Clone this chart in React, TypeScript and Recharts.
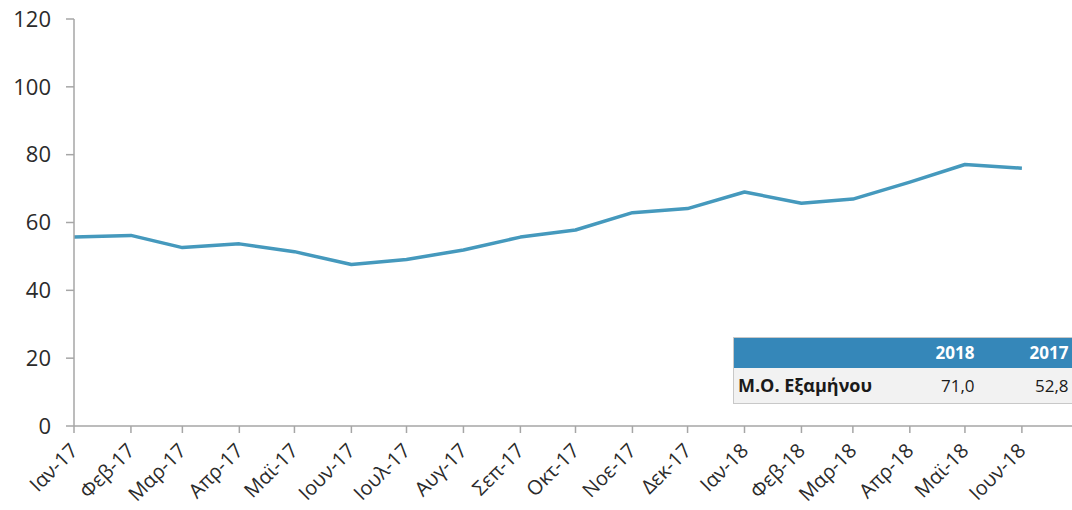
import React from 'react';
import { CartesianGrid, Line, LineChart, XAxis, YAxis } from 'recharts';

// monthly index values, Jan 2017 – Jun 2018
const months = [
    '2017-01-01', '2017-02-01', '2017-03-01', '2017-04-01', '2017-05-01', '2017-06-01',
    '2017-07-01', '2017-08-01', '2017-09-01', '2017-10-01', '2017-11-01', '2017-12-01',
    '2018-01-01', '2018-02-01', '2018-03-01', '2018-04-01', '2018-05-01', '2018-06-01',
];
const monthLabels = [
    'Ιαν-17', 'Φεβ-17', 'Μαρ-17', 'Απρ-17', 'Μαϊ-17', 'Ιουν-17',
    'Ιουλ-17', 'Αυγ-17', 'Σεπ-17', 'Οκτ-17', 'Νοε-17', 'Δεκ-17',
    'Ιαν-18', 'Φεβ-18', 'Μαρ-18', 'Απρ-18', 'Μαϊ-18', 'Ιουν-18',
];
const values = [
    55.7, 56.2, 52.6, 53.7, 51.4, 47.6,
    49.1, 51.9, 55.7, 57.8, 62.9, 64.1,
    69.0, 65.7, 66.9, 71.9, 77.1, 76.0,
];
const yTicks = [0, 20, 40, 60, 80, 100, 120];

// summary box (six-month average)
const tableYears = ['2018', '2017'];
const tableRowLabel = 'Μ.Ο. Εξαμήνου';
const tableValues = ['71,0', '52,8'];

const domainEnd = '2018-07-01';

const toTime = (s: string) => new Date(s + 'T00:00:00Z').getTime();
const data = months.map((m, i) => ({ t: toTime(m), value: values[i] }));
const xTicks = months.map(toTime);
const labelFor = (t: number) => monthLabels[xTicks.indexOf(t)] ?? '';

const FONT = '"Open Sans", sans-serif';
const AXIS = '#a6a6a6';
const TEXT = '#2b2b2b';

function MonthTick(props: any) {
    const { x, y, payload } = props;
    const ax = x + 5;
    const ay = y + 17;
    return (
        <text
            x={ax}
            y={ay}
            transform={`rotate(-45, ${ax}, ${ay})`}
            textAnchor="end"
            fontFamily={FONT}
            fontSize={20}
            fill={TEXT}
        >
            {labelFor(payload.value)}
        </text>
    );
}

function SummaryTable() {
    const cell: React.CSSProperties = { padding: '0 4px 0 0', textAlign: 'right' };
    return (
        <table
            style={{
                position: 'absolute',
                left: 733,
                top: 337,
                width: 339,
                tableLayout: 'fixed',
                borderCollapse: 'collapse',
                fontFamily: FONT,
                fontSize: 17,
                border: '1px solid #c8c8c8',
                borderRight: 'none',
            }}
        >
            <colgroup>
                <col style={{ width: 167 }} />
                <col style={{ width: 78 }} />
                <col style={{ width: 94 }} />
            </colgroup>
            <tbody>
                <tr style={{ background: '#3587b9', color: '#ffffff', height: 30, fontWeight: 700 }}>
                    <td />
                    {tableYears.map((yr) => (
                        <td key={yr} style={cell}>{yr}</td>
                    ))}
                </tr>
                <tr style={{ background: '#f2f2f2', color: '#1a1a1a', height: 36 }}>
                    <td style={{ padding: '0 0 0 4px', fontWeight: 700, fontSize: 18, whiteSpace: 'nowrap' }}>
                        {tableRowLabel}
                    </td>
                    {tableValues.map((v) => (
                        <td key={v} style={cell}>{v}</td>
                    ))}
                </tr>
            </tbody>
        </table>
    );
}

export default function App() {
    return (
        <div
            style={{
                position: 'fixed',
                left: 0,
                top: 0,
                width: 1072,
                height: 510,
                overflow: 'hidden',
                background: '#ffffff',
            }}
        >
            <LineChart
                width={1077}
                height={510}
                data={data}
                margin={{ top: 19, right: 0, left: 0, bottom: 0 }}
            >
                <CartesianGrid horizontal={false} vertical={false} />
                <XAxis
                    dataKey="t"
                    type="number"
                    scale="time"
                    domain={[xTicks[0], toTime(domainEnd)]}
                    ticks={xTicks}
                    interval={0}
                    height={84}
                    tick={<MonthTick />}
                    tickSize={7}
                    axisLine={{ stroke: AXIS, strokeWidth: 1.5 }}
                    tickLine={{ stroke: AXIS, strokeWidth: 1.5 }}
                />
                <YAxis
                    domain={[0, 120]}
                    ticks={yTicks}
                    width={74}
                    tickSize={8}
                    tickMargin={15}
                    tick={{ fontFamily: FONT, fontSize: 22, fill: TEXT }}
                    axisLine={{ stroke: AXIS, strokeWidth: 1.5 }}
                    tickLine={{ stroke: AXIS, strokeWidth: 1.5 }}
                />
                <Line
                    type="linear"
                    dataKey="value"
                    stroke="#4599bd"
                    strokeWidth={3.5}
                    strokeLinejoin="round"
                    dot={false}
                    isAnimationActive={false}
                />
            </LineChart>
            <SummaryTable />
        </div>
    );
}
